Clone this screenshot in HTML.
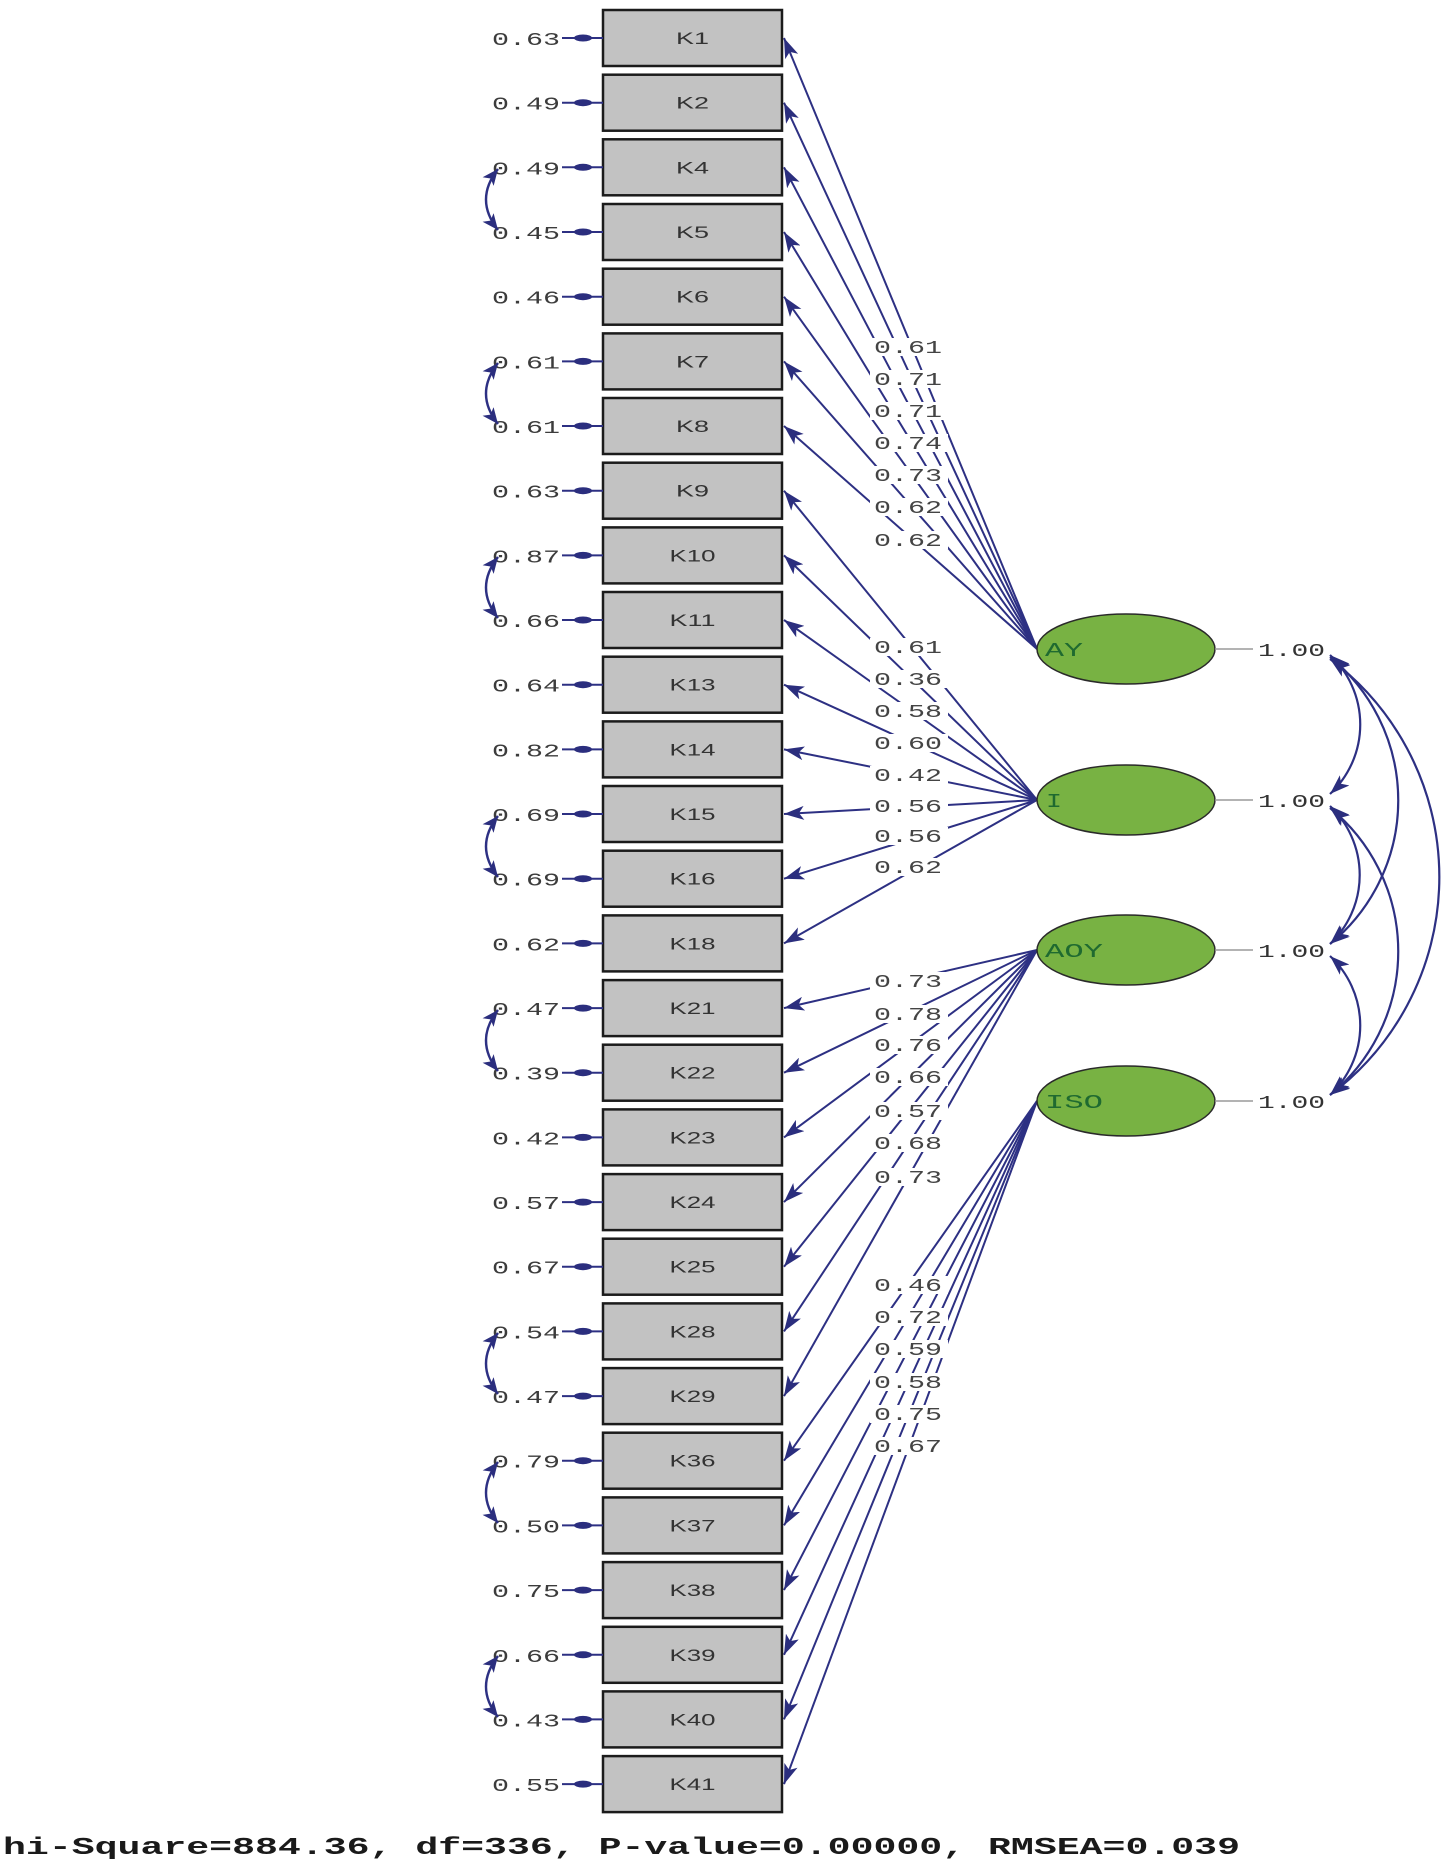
<!DOCTYPE html>
<html><head><meta charset="utf-8"><style>
html,body{margin:0;padding:0;background:#fff;}
svg{display:block;}
.e{font-family:"Liberation Mono",monospace;font-size:18px;fill:#3c3c3c;}
.k{font-family:"Liberation Sans",sans-serif;font-size:17px;fill:#333;}
.l{font-family:"Liberation Mono",monospace;font-size:18px;fill:#444;}
.v{font-family:"Liberation Mono",monospace;font-size:19px;fill:#1f6a30;}
.o{font-family:"Liberation Mono",monospace;font-size:18px;fill:#333;}
.b{font-family:"Liberation Mono",monospace;font-size:24px;font-weight:bold;fill:#1a1a1a;}
</style></head><body>
<svg width="1446" height="1869" viewBox="0 0 1446 1869" xmlns="http://www.w3.org/2000/svg">
<defs>
<marker id="ah" viewBox="0 0 20 14" refX="20" refY="7" markerWidth="20" markerHeight="14" orient="auto-start-reverse" markerUnits="userSpaceOnUse"><path d="M0,0 L20,7 L0,14 L5,7 z" fill="#2b2e7e"/></marker>
<marker id="as" viewBox="0 0 16 14" refX="16" refY="7" markerWidth="16" markerHeight="14" orient="auto-start-reverse" markerUnits="userSpaceOnUse"><path d="M0,0 L16,7 L0,14 L4,7 z" fill="#2b2e7e"/></marker>
</defs>
<rect width="1446" height="1869" fill="#fff"/>

<!-- loading lines -->
<g stroke="#2d3083" stroke-width="2" fill="none" marker-end="url(#ah)">
<line x1="1037" y1="649" x2="784" y2="38"/>
<line x1="1037" y1="649" x2="784" y2="102.7"/>
<line x1="1037" y1="649" x2="784" y2="167.3"/>
<line x1="1037" y1="649" x2="784" y2="232"/>
<line x1="1037" y1="649" x2="784" y2="296.7"/>
<line x1="1037" y1="649" x2="784" y2="361.4"/>
<line x1="1037" y1="649" x2="784" y2="426"/>
<line x1="1037" y1="800" x2="784" y2="490.7"/>
<line x1="1037" y1="800" x2="784" y2="555.4"/>
<line x1="1037" y1="800" x2="784" y2="620"/>
<line x1="1037" y1="800" x2="784" y2="684.7"/>
<line x1="1037" y1="800" x2="784" y2="749.4"/>
<line x1="1037" y1="800" x2="784" y2="814"/>
<line x1="1037" y1="800" x2="784" y2="878.7"/>
<line x1="1037" y1="800" x2="784" y2="943.4"/>
<line x1="1037" y1="950" x2="784" y2="1008.1"/>
<line x1="1037" y1="950" x2="784" y2="1072.7"/>
<line x1="1037" y1="950" x2="784" y2="1137.4"/>
<line x1="1037" y1="950" x2="784" y2="1202.1"/>
<line x1="1037" y1="950" x2="784" y2="1266.7"/>
<line x1="1037" y1="950" x2="784" y2="1331.4"/>
<line x1="1037" y1="950" x2="784" y2="1396.1"/>
<line x1="1037" y1="1101" x2="784" y2="1460.7"/>
<line x1="1037" y1="1101" x2="784" y2="1525.4"/>
<line x1="1037" y1="1101" x2="784" y2="1590.1"/>
<line x1="1037" y1="1101" x2="784" y2="1654.8"/>
<line x1="1037" y1="1101" x2="784" y2="1719.4"/>
<line x1="1037" y1="1101" x2="784" y2="1784.1"/>
</g>

<!-- loading labels -->
<g fill="#fff">
<rect x="870" y="338" width="78" height="18"/><rect x="870" y="370" width="78" height="18"/><rect x="870" y="402" width="78" height="18"/><rect x="870" y="434" width="78" height="18"/><rect x="870" y="466" width="78" height="18"/><rect x="870" y="498" width="78" height="18"/><rect x="870" y="531" width="78" height="18"/>
<rect x="870" y="638" width="78" height="18"/><rect x="870" y="670" width="78" height="18"/><rect x="870" y="702" width="78" height="18"/><rect x="870" y="734" width="78" height="18"/><rect x="870" y="766" width="78" height="18"/><rect x="870" y="797" width="78" height="18"/><rect x="870" y="827" width="78" height="18"/><rect x="870" y="858" width="78" height="18"/>
<rect x="870" y="972" width="78" height="18"/><rect x="870" y="1005" width="78" height="18"/><rect x="870" y="1036" width="78" height="18"/><rect x="870" y="1068" width="78" height="18"/><rect x="870" y="1102" width="78" height="18"/><rect x="870" y="1134" width="78" height="18"/><rect x="870" y="1168" width="78" height="18"/>
<rect x="870" y="1276" width="78" height="18"/><rect x="870" y="1308" width="78" height="18"/><rect x="870" y="1340" width="78" height="18"/><rect x="870" y="1373" width="78" height="18"/><rect x="870" y="1405" width="78" height="18"/><rect x="870" y="1437" width="78" height="18"/>
</g>
<g class="l">
<text x="874" y="353" textLength="68" lengthAdjust="spacingAndGlyphs">0.61</text>
<text x="874" y="385" textLength="68" lengthAdjust="spacingAndGlyphs">0.71</text>
<text x="874" y="417" textLength="68" lengthAdjust="spacingAndGlyphs">0.71</text>
<text x="874" y="449" textLength="68" lengthAdjust="spacingAndGlyphs">0.74</text>
<text x="874" y="481" textLength="68" lengthAdjust="spacingAndGlyphs">0.73</text>
<text x="874" y="513" textLength="68" lengthAdjust="spacingAndGlyphs">0.62</text>
<text x="874" y="546" textLength="68" lengthAdjust="spacingAndGlyphs">0.62</text>
<text x="874" y="653" textLength="68" lengthAdjust="spacingAndGlyphs">0.61</text>
<text x="874" y="685" textLength="68" lengthAdjust="spacingAndGlyphs">0.36</text>
<text x="874" y="717" textLength="68" lengthAdjust="spacingAndGlyphs">0.58</text>
<text x="874" y="749" textLength="68" lengthAdjust="spacingAndGlyphs">0.60</text>
<text x="874" y="781" textLength="68" lengthAdjust="spacingAndGlyphs">0.42</text>
<text x="874" y="812" textLength="68" lengthAdjust="spacingAndGlyphs">0.56</text>
<text x="874" y="842" textLength="68" lengthAdjust="spacingAndGlyphs">0.56</text>
<text x="874" y="873" textLength="68" lengthAdjust="spacingAndGlyphs">0.62</text>
<text x="874" y="987" textLength="68" lengthAdjust="spacingAndGlyphs">0.73</text>
<text x="874" y="1020" textLength="68" lengthAdjust="spacingAndGlyphs">0.78</text>
<text x="874" y="1051" textLength="68" lengthAdjust="spacingAndGlyphs">0.76</text>
<text x="874" y="1083" textLength="68" lengthAdjust="spacingAndGlyphs">0.66</text>
<text x="874" y="1117" textLength="68" lengthAdjust="spacingAndGlyphs">0.57</text>
<text x="874" y="1149" textLength="68" lengthAdjust="spacingAndGlyphs">0.68</text>
<text x="874" y="1183" textLength="68" lengthAdjust="spacingAndGlyphs">0.73</text>
<text x="874" y="1291" textLength="68" lengthAdjust="spacingAndGlyphs">0.46</text>
<text x="874" y="1323" textLength="68" lengthAdjust="spacingAndGlyphs">0.72</text>
<text x="874" y="1355" textLength="68" lengthAdjust="spacingAndGlyphs">0.59</text>
<text x="874" y="1388" textLength="68" lengthAdjust="spacingAndGlyphs">0.58</text>
<text x="874" y="1420" textLength="68" lengthAdjust="spacingAndGlyphs">0.75</text>
<text x="874" y="1452" textLength="68" lengthAdjust="spacingAndGlyphs">0.67</text>
</g>

<!-- boxes -->
<g fill="#c2c2c2" stroke="#1b1b1b" stroke-width="2.5">
<rect x="603" y="10" width="179" height="56"/>
<rect x="603" y="74.7" width="179" height="56"/>
<rect x="603" y="139.3" width="179" height="56"/>
<rect x="603" y="204" width="179" height="56"/>
<rect x="603" y="268.7" width="179" height="56"/>
<rect x="603" y="333.4" width="179" height="56"/>
<rect x="603" y="398" width="179" height="56"/>
<rect x="603" y="462.7" width="179" height="56"/>
<rect x="603" y="527.4" width="179" height="56"/>
<rect x="603" y="592" width="179" height="56"/>
<rect x="603" y="656.7" width="179" height="56"/>
<rect x="603" y="721.4" width="179" height="56"/>
<rect x="603" y="786" width="179" height="56"/>
<rect x="603" y="850.7" width="179" height="56"/>
<rect x="603" y="915.4" width="179" height="56"/>
<rect x="603" y="980.1" width="179" height="56"/>
<rect x="603" y="1044.7" width="179" height="56"/>
<rect x="603" y="1109.4" width="179" height="56"/>
<rect x="603" y="1174.1" width="179" height="56"/>
<rect x="603" y="1238.7" width="179" height="56"/>
<rect x="603" y="1303.4" width="179" height="56"/>
<rect x="603" y="1368.1" width="179" height="56"/>
<rect x="603" y="1432.7" width="179" height="56"/>
<rect x="603" y="1497.4" width="179" height="56"/>
<rect x="603" y="1562.1" width="179" height="56"/>
<rect x="603" y="1626.8" width="179" height="56"/>
<rect x="603" y="1691.4" width="179" height="56"/>
<rect x="603" y="1756.1" width="179" height="56"/>
</g>
<g class="k">
<text x="676" y="44" textLength="33" lengthAdjust="spacingAndGlyphs">K1</text>
<text x="676" y="108.7" textLength="33" lengthAdjust="spacingAndGlyphs">K2</text>
<text x="676" y="173.3" textLength="33" lengthAdjust="spacingAndGlyphs">K4</text>
<text x="676" y="238" textLength="33" lengthAdjust="spacingAndGlyphs">K5</text>
<text x="676" y="302.7" textLength="33" lengthAdjust="spacingAndGlyphs">K6</text>
<text x="676" y="367.4" textLength="33" lengthAdjust="spacingAndGlyphs">K7</text>
<text x="676" y="432" textLength="33" lengthAdjust="spacingAndGlyphs">K8</text>
<text x="676" y="496.7" textLength="33" lengthAdjust="spacingAndGlyphs">K9</text>
<text x="669.5" y="561.4" textLength="46" lengthAdjust="spacingAndGlyphs">K10</text>
<text x="669.5" y="626" textLength="46" lengthAdjust="spacingAndGlyphs">K11</text>
<text x="669.5" y="690.7" textLength="46" lengthAdjust="spacingAndGlyphs">K13</text>
<text x="669.5" y="755.4" textLength="46" lengthAdjust="spacingAndGlyphs">K14</text>
<text x="669.5" y="820" textLength="46" lengthAdjust="spacingAndGlyphs">K15</text>
<text x="669.5" y="884.7" textLength="46" lengthAdjust="spacingAndGlyphs">K16</text>
<text x="669.5" y="949.4" textLength="46" lengthAdjust="spacingAndGlyphs">K18</text>
<text x="669.5" y="1014.1" textLength="46" lengthAdjust="spacingAndGlyphs">K21</text>
<text x="669.5" y="1078.7" textLength="46" lengthAdjust="spacingAndGlyphs">K22</text>
<text x="669.5" y="1143.4" textLength="46" lengthAdjust="spacingAndGlyphs">K23</text>
<text x="669.5" y="1208.1" textLength="46" lengthAdjust="spacingAndGlyphs">K24</text>
<text x="669.5" y="1272.7" textLength="46" lengthAdjust="spacingAndGlyphs">K25</text>
<text x="669.5" y="1337.4" textLength="46" lengthAdjust="spacingAndGlyphs">K28</text>
<text x="669.5" y="1402.1" textLength="46" lengthAdjust="spacingAndGlyphs">K29</text>
<text x="669.5" y="1466.7" textLength="46" lengthAdjust="spacingAndGlyphs">K36</text>
<text x="669.5" y="1531.4" textLength="46" lengthAdjust="spacingAndGlyphs">K37</text>
<text x="669.5" y="1596.1" textLength="46" lengthAdjust="spacingAndGlyphs">K38</text>
<text x="669.5" y="1660.8" textLength="46" lengthAdjust="spacingAndGlyphs">K39</text>
<text x="669.5" y="1725.4" textLength="46" lengthAdjust="spacingAndGlyphs">K40</text>
<text x="669.5" y="1790.1" textLength="46" lengthAdjust="spacingAndGlyphs">K41</text>
</g>

<!-- error arrows -->
<g stroke="#2d3083" stroke-width="2">
<line x1="562" y1="38" x2="603" y2="38"/><line x1="562" y1="102.7" x2="603" y2="102.7"/><line x1="562" y1="167.3" x2="603" y2="167.3"/><line x1="562" y1="232" x2="603" y2="232"/><line x1="562" y1="296.7" x2="603" y2="296.7"/><line x1="562" y1="361.4" x2="603" y2="361.4"/><line x1="562" y1="426" x2="603" y2="426"/><line x1="562" y1="490.7" x2="603" y2="490.7"/><line x1="562" y1="555.4" x2="603" y2="555.4"/><line x1="562" y1="620" x2="603" y2="620"/><line x1="562" y1="684.7" x2="603" y2="684.7"/><line x1="562" y1="749.4" x2="603" y2="749.4"/><line x1="562" y1="814" x2="603" y2="814"/><line x1="562" y1="878.7" x2="603" y2="878.7"/><line x1="562" y1="943.4" x2="603" y2="943.4"/><line x1="562" y1="1008.1" x2="603" y2="1008.1"/><line x1="562" y1="1072.7" x2="603" y2="1072.7"/><line x1="562" y1="1137.4" x2="603" y2="1137.4"/><line x1="562" y1="1202.1" x2="603" y2="1202.1"/><line x1="562" y1="1266.7" x2="603" y2="1266.7"/><line x1="562" y1="1331.4" x2="603" y2="1331.4"/><line x1="562" y1="1396.1" x2="603" y2="1396.1"/><line x1="562" y1="1460.7" x2="603" y2="1460.7"/><line x1="562" y1="1525.4" x2="603" y2="1525.4"/><line x1="562" y1="1590.1" x2="603" y2="1590.1"/><line x1="562" y1="1654.8" x2="603" y2="1654.8"/><line x1="562" y1="1719.4" x2="603" y2="1719.4"/><line x1="562" y1="1784.1" x2="603" y2="1784.1"/>
</g>
<g fill="#2b2e7e">
<ellipse cx="583" cy="38" rx="9" ry="3.5"/><ellipse cx="583" cy="102.7" rx="9" ry="3.5"/><ellipse cx="583" cy="167.3" rx="9" ry="3.5"/><ellipse cx="583" cy="232" rx="9" ry="3.5"/><ellipse cx="583" cy="296.7" rx="9" ry="3.5"/><ellipse cx="583" cy="361.4" rx="9" ry="3.5"/><ellipse cx="583" cy="426" rx="9" ry="3.5"/><ellipse cx="583" cy="490.7" rx="9" ry="3.5"/><ellipse cx="583" cy="555.4" rx="9" ry="3.5"/><ellipse cx="583" cy="620" rx="9" ry="3.5"/><ellipse cx="583" cy="684.7" rx="9" ry="3.5"/><ellipse cx="583" cy="749.4" rx="9" ry="3.5"/><ellipse cx="583" cy="814" rx="9" ry="3.5"/><ellipse cx="583" cy="878.7" rx="9" ry="3.5"/><ellipse cx="583" cy="943.4" rx="9" ry="3.5"/><ellipse cx="583" cy="1008.1" rx="9" ry="3.5"/><ellipse cx="583" cy="1072.7" rx="9" ry="3.5"/><ellipse cx="583" cy="1137.4" rx="9" ry="3.5"/><ellipse cx="583" cy="1202.1" rx="9" ry="3.5"/><ellipse cx="583" cy="1266.7" rx="9" ry="3.5"/><ellipse cx="583" cy="1331.4" rx="9" ry="3.5"/><ellipse cx="583" cy="1396.1" rx="9" ry="3.5"/><ellipse cx="583" cy="1460.7" rx="9" ry="3.5"/><ellipse cx="583" cy="1525.4" rx="9" ry="3.5"/><ellipse cx="583" cy="1590.1" rx="9" ry="3.5"/><ellipse cx="583" cy="1654.8" rx="9" ry="3.5"/><ellipse cx="583" cy="1719.4" rx="9" ry="3.5"/><ellipse cx="583" cy="1784.1" rx="9" ry="3.5"/>
</g>
<g class="e">
<text x="492" y="45" textLength="68" lengthAdjust="spacingAndGlyphs">0.63</text>
<text x="492" y="109.7" textLength="68" lengthAdjust="spacingAndGlyphs">0.49</text>
<text x="492" y="174.3" textLength="68" lengthAdjust="spacingAndGlyphs">0.49</text>
<text x="492" y="239" textLength="68" lengthAdjust="spacingAndGlyphs">0.45</text>
<text x="492" y="303.7" textLength="68" lengthAdjust="spacingAndGlyphs">0.46</text>
<text x="492" y="368.4" textLength="68" lengthAdjust="spacingAndGlyphs">0.61</text>
<text x="492" y="433" textLength="68" lengthAdjust="spacingAndGlyphs">0.61</text>
<text x="492" y="497.7" textLength="68" lengthAdjust="spacingAndGlyphs">0.63</text>
<text x="492" y="562.4" textLength="68" lengthAdjust="spacingAndGlyphs">0.87</text>
<text x="492" y="627" textLength="68" lengthAdjust="spacingAndGlyphs">0.66</text>
<text x="492" y="691.7" textLength="68" lengthAdjust="spacingAndGlyphs">0.64</text>
<text x="492" y="756.4" textLength="68" lengthAdjust="spacingAndGlyphs">0.82</text>
<text x="492" y="821" textLength="68" lengthAdjust="spacingAndGlyphs">0.69</text>
<text x="492" y="885.7" textLength="68" lengthAdjust="spacingAndGlyphs">0.69</text>
<text x="492" y="950.4" textLength="68" lengthAdjust="spacingAndGlyphs">0.62</text>
<text x="492" y="1015.1" textLength="68" lengthAdjust="spacingAndGlyphs">0.47</text>
<text x="492" y="1079.7" textLength="68" lengthAdjust="spacingAndGlyphs">0.39</text>
<text x="492" y="1144.4" textLength="68" lengthAdjust="spacingAndGlyphs">0.42</text>
<text x="492" y="1209.1" textLength="68" lengthAdjust="spacingAndGlyphs">0.57</text>
<text x="492" y="1273.7" textLength="68" lengthAdjust="spacingAndGlyphs">0.67</text>
<text x="492" y="1338.4" textLength="68" lengthAdjust="spacingAndGlyphs">0.54</text>
<text x="492" y="1403.1" textLength="68" lengthAdjust="spacingAndGlyphs">0.47</text>
<text x="492" y="1467.7" textLength="68" lengthAdjust="spacingAndGlyphs">0.79</text>
<text x="492" y="1532.4" textLength="68" lengthAdjust="spacingAndGlyphs">0.50</text>
<text x="492" y="1597.1" textLength="68" lengthAdjust="spacingAndGlyphs">0.75</text>
<text x="492" y="1661.8" textLength="68" lengthAdjust="spacingAndGlyphs">0.66</text>
<text x="492" y="1726.4" textLength="68" lengthAdjust="spacingAndGlyphs">0.43</text>
<text x="492" y="1791.1" textLength="68" lengthAdjust="spacingAndGlyphs">0.55</text>
</g>

<!-- error covariance arcs -->
<g stroke="#2d3083" stroke-width="2.4" fill="none" marker-start="url(#as)" marker-end="url(#as)">
<path d="M498 169 Q474 199.6 498 230"/>
<path d="M498 363 Q474 393.7 498 424"/>
<path d="M498 557 Q474 587.7 498 618"/>
<path d="M498 816 Q474 846.3 498 877"/>
<path d="M498 1010 Q474 1040.4 498 1071"/>
<path d="M498 1333 Q474 1363.7 498 1394"/>
<path d="M498 1462 Q474 1493 498 1523"/>
<path d="M498 1656 Q474 1687 498 1717"/>
</g>

<!-- latent variables -->
<g fill="#78b243" stroke="#2a2a2a" stroke-width="1.5">
<ellipse cx="1126" cy="649" rx="89" ry="35"/>
<ellipse cx="1126" cy="800" rx="89" ry="35"/>
<ellipse cx="1126" cy="950" rx="89" ry="35"/>
<ellipse cx="1126" cy="1101" rx="89" ry="35"/>
</g>
<g class="v">
<text x="1045" y="656" textLength="38" lengthAdjust="spacingAndGlyphs">AY</text>
<text x="1046" y="807" textLength="16" lengthAdjust="spacingAndGlyphs">I</text>
<text x="1045" y="957" textLength="58" lengthAdjust="spacingAndGlyphs">AOY</text>
<text x="1045" y="1108" textLength="58" lengthAdjust="spacingAndGlyphs">ISO</text>
</g>
<g stroke="#9a9a9a" stroke-width="1.5">
<line x1="1215" y1="649" x2="1253" y2="649"/>
<line x1="1215" y1="800" x2="1253" y2="800"/>
<line x1="1215" y1="950" x2="1253" y2="950"/>
<line x1="1215" y1="1101" x2="1253" y2="1101"/>
</g>
<g class="o">
<text x="1258" y="656" textLength="67" lengthAdjust="spacingAndGlyphs">1.00</text>
<text x="1258" y="807" textLength="67" lengthAdjust="spacingAndGlyphs">1.00</text>
<text x="1258" y="957" textLength="67" lengthAdjust="spacingAndGlyphs">1.00</text>
<text x="1258" y="1108" textLength="67" lengthAdjust="spacingAndGlyphs">1.00</text>
</g>

<!-- latent correlation arcs -->
<g stroke="#2d3083" stroke-width="2.2" fill="none" marker-start="url(#ah)" marker-end="url(#ah)">
<path d="M1330 655 A95 95 0 0 1 1330 794"/>
<path d="M1330 657 A185 185 0 0 1 1330 944"/>
<path d="M1330 659 A272 272 0 0 1 1330 1095"/>
<path d="M1330 806 A95 95 0 0 1 1330 944"/>
<path d="M1330 808 A185 185 0 0 1 1330 1095"/>
<path d="M1330 956 A95 95 0 0 1 1330 1095"/>
</g>

<!-- fit statistics -->
<text class="b" x="3" y="1854" textLength="1237" lengthAdjust="spacingAndGlyphs">hi-Square=884.36, df=336, P-value=0.00000, RMSEA=0.039</text>
</svg>
</body></html>
